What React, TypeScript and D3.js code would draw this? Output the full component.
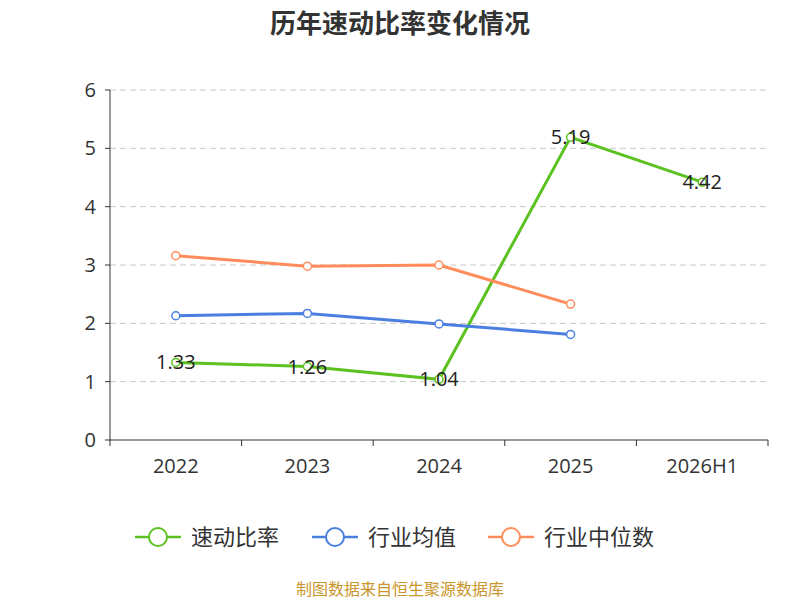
import React from "react";
import * as d3 from "d3";

const categories = ["2022", "2023", "2024", "2025", "2026H1"];
const quickRatio = [1.33, 1.26, 1.04, 5.19, 4.42];
const industryAvg = [2.13, 2.17, 1.99, 1.81];
const industryMedian = [3.16, 2.98, 3.0, 2.33];
const yTicks = [0, 1, 2, 3, 4, 5, 6];

const series = [
  { name: "速动比率", values: quickRatio, color: "#5bc221", labels: true },
  { name: "行业均值", values: industryAvg, color: "#4a7fe0", labels: false },
  { name: "行业中位数", values: industryMedian, color: "#ff8c5a", labels: false },
];

const font = "'Open Sans', 'Noto Sans CJK SC', sans-serif";

export default function App() {
  const left = 110, right = 768, top = 90, bottom = 440;
  const x = d3.scaleBand().domain(categories).range([left, right]);
  const y = d3.scaleLinear().domain([0, 6]).range([bottom, top]);
  const cx = (i: number) => x(categories[i])! + x.bandwidth() / 2;
  const line = d3.line<number>().x((_, i) => cx(i)).y((d) => y(d));
  const legendX = [135, 312, 488];

  return (
    <svg width={800} height={600} style={{ position: "absolute", left: 0, top: 0, fontFamily: font }}>
      <rect width={800} height={600} fill="#fff" />
      <text x={400} y={33} textAnchor="middle" fontSize={26} fontWeight="bold" fill="#333">
        历年速动比率变化情况
      </text>
      {yTicks.map((t) => (
        <g key={t}>
          {t > 0 && (
            <line x1={left} x2={right} y1={y(t)} y2={y(t)} stroke="#c8c8c8" strokeDasharray="6,4" />
          )}
          <line x1={left - 5} x2={left} y1={y(t)} y2={y(t)} stroke="#333" />
          <text x={left - 14} y={y(t) + 7} textAnchor="end" fontSize={20} fill="#333">
            {t}
          </text>
        </g>
      ))}
      <line x1={left} x2={left} y1={top} y2={bottom} stroke="#333" />
      <line x1={left} x2={right} y1={bottom} y2={bottom} stroke="#333" />
      {d3.range(categories.length + 1).map((i) => {
        const xx = left + i * x.bandwidth();
        return <line key={i} x1={xx} x2={xx} y1={bottom} y2={bottom + 6} stroke="#333" />;
      })}
      {categories.map((c, i) => (
        <text key={c} x={cx(i)} y={bottom + 33} textAnchor="middle" fontSize={20} fill="#333">
          {c}
        </text>
      ))}
      {series.map((s) => (
        <g key={s.name}>
          <path d={line(s.values)!} fill="none" stroke={s.color} strokeWidth={3} />
          {s.values.map((v, i) => (
            <circle key={i} cx={cx(i)} cy={y(v)} r={4} fill="#fff" stroke={s.color} strokeWidth={1.5} />
          ))}
          {s.labels &&
            s.values.map((v, i) => (
              <text key={"l" + i} x={cx(i)} y={y(v) + 7} textAnchor="middle" fontSize={20} fill="#222">
                {v.toFixed(2)}
              </text>
            ))}
        </g>
      ))}
      {series.map((s, i) => (
        <g key={"lg" + s.name} transform={`translate(${legendX[i]},537)`}>
          <line x1={0} x2={46} y1={0} y2={0} stroke={s.color} strokeWidth={2.5} />
          <circle cx={23} cy={0} r={9} fill="#fff" stroke={s.color} strokeWidth={2} />
          <text x={56} y={8} fontSize={22} fill="#333">
            {s.name}
          </text>
        </g>
      ))}
      <text x={400} y={595} textAnchor="middle" fontSize={16} fill="#c9962c">
        制图数据来自恒生聚源数据库
      </text>
    </svg>
  );
}
